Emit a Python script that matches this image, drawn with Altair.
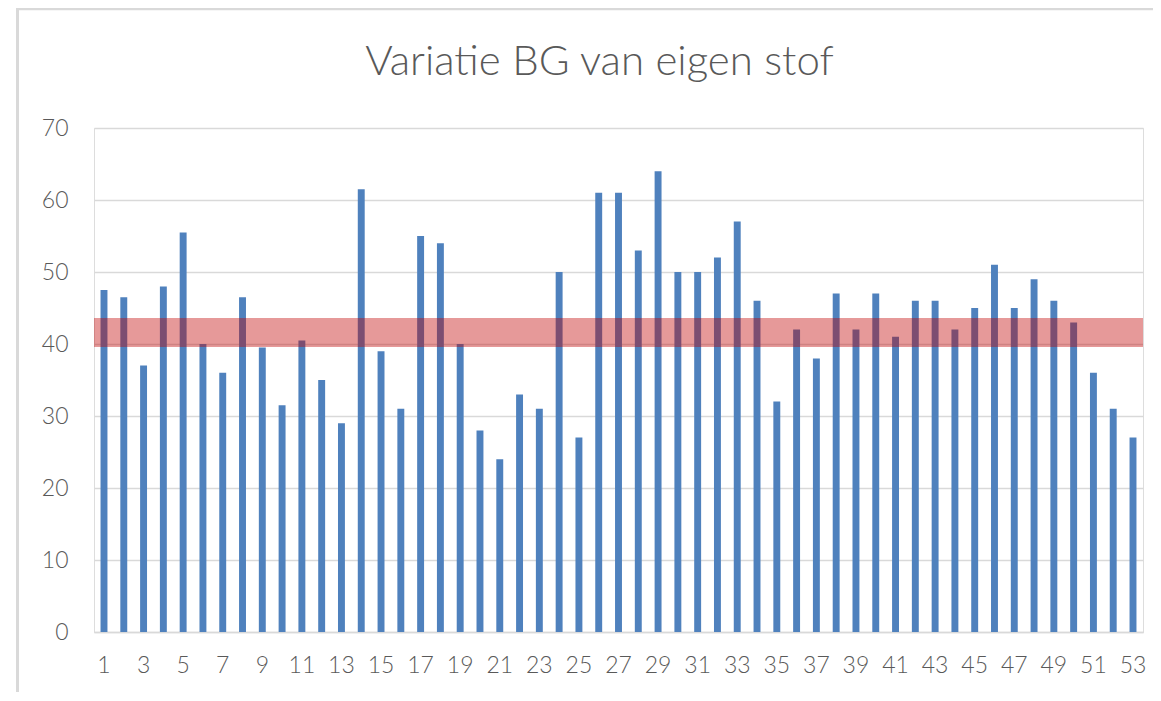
import altair as alt
import pandas as pd

# ---- data ----
samples = list(range(1, 54))
values = [47.5, 46.5, 37, 48, 55.5, 40, 36, 46.5, 39.5, 31.5,
          40.5, 35, 29, 61.5, 39, 31, 55, 54, 40, 28,
          24, 33, 31, 50, 27, 61, 61, 53, 64, 50,
          50, 52, 57, 46, 32, 42, 38, 47, 42, 47,
          41, 46, 46, 42, 45, 51, 45, 49, 46, 43,
          36, 31, 27]
band_low = [39.6]
band_high = [43.6]
x_tick_labels = list(range(1, 54, 2))
y_ticks = [0, 10, 20, 30, 40, 50, 60, 70]
title_text = "Variatie BG van eigen stof"

df = pd.DataFrame({"n": samples, "v": values})
band_df = pd.DataFrame({"lo": band_low, "hi": band_high})

FONT = "Lato"
GREY = "#595959"

x_enc = alt.X(
    "n:O",
    sort=samples,
    scale=alt.Scale(paddingInner=0.65, paddingOuter=0.33),
    axis=alt.Axis(
        title=None, values=x_tick_labels, labelAngle=0, ticks=False, tickSize=0,
        labelPadding=22, labelFontSize=23, labelColor=GREY, labelFont=FONT,
        labelFontWeight=300, labelOverlap=False, domainColor="#D9D9D9",
        domainWidth=1.5, grid=False,
    ),
)
y_enc = alt.Y(
    "v:Q",
    scale=alt.Scale(domain=[0, 70], nice=False),
    axis=alt.Axis(
        title=None, values=y_ticks, ticks=False, tickSize=0, domain=False,
        labelPadding=26, labelFontSize=23, labelColor=GREY, labelFont=FONT,
        labelFontWeight=300, gridColor="#D9D9D9", gridWidth=1.5,
    ),
)

bars = alt.Chart(df).mark_bar(color="#4F81BD").encode(x=x_enc, y=y_enc)

band = alt.Chart(band_df).mark_rect(color="#C00000", opacity=0.4).encode(
    y=alt.Y("lo:Q"), y2="hi:Q"
)

border_left = alt.Chart(band_df).mark_rule(color="#D9D9D9", strokeWidth=3).encode(
    x=alt.value(-76.5), y=alt.value(-119.5), y2=alt.value(600)
)
border_top = alt.Chart(band_df).mark_rule(color="#D9D9D9", strokeWidth=3).encode(
    x=alt.value(-78), x2=alt.value(1100), y=alt.value(-119.3)
)

chart = (
    alt.layer(bars, band, border_left, border_top)
    .properties(
        width=1049,
        height=504,
        autosize=alt.AutoSizeParams(type="none"),
        padding={"left": 86, "top": 120, "right": 10, "bottom": 60},
        title=alt.TitleParams(
            title_text, fontSize=42, font=FONT, fontWeight=300, color=GREY,
            anchor="middle", dx=-19, dy=77, offset=0,
        ),
    )
    .configure_view(stroke=None)
    .configure(background="white")
)

chart.save("out.html", embed_options={"renderer": "svg", "actions": False})
